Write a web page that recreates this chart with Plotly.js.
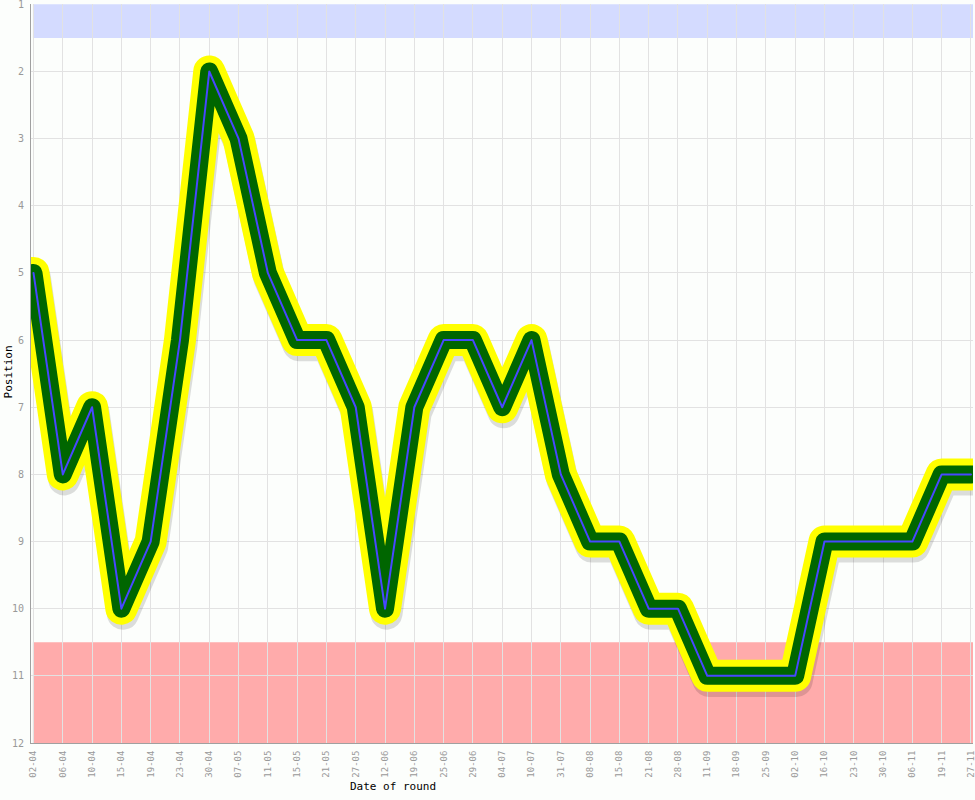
<!DOCTYPE html>
<html>
<head>
<meta charset="utf-8">
<script src="https://cdn.plot.ly/plotly-3.0.1.min.js"></script>
<style>
  html, body { margin: 0; padding: 0; background: #fcfefc; }
  #chart { width: 975px; height: 800px; }
</style>
</head>
<body>
<div id="chart"></div>
<script>
// ---- data ----
const dates = ['02-04','06-04','10-04','15-04','19-04','23-04','30-04','07-05','11-05','15-05','21-05',
               '27-05','12-06','19-06','25-06','29-06','04-07','10-07','31-07','08-08','15-08','21-08',
               '28-08','11-09','18-09','25-09','02-10','16-10','23-10','30-10','06-11','19-11','27-11'];
const positions = [5,8,7,10,9,6,2,3,5,6,6,7,10,7,6,6,7,6,8,9,9,10,10,11,11,11,11,9,9,9,9,8,8];
const positionTicks = [1,2,3,4,5,6,7,8,9,10,11,12];
const topZone = [1, 1.5];
const bottomZone = [10.5, 12];

// ---- layout helpers ----
const xRange = [-0.085, 32.07];
const yRange = [12, 0.995];
const shadowDx = 0.05;   // data units (x)
const shadowDy = 0.075;  // data units (y)

const traces = [
  { x: dates, y: positions, xaxis: 'x2', yaxis: 'y2', type: 'scatter', mode: 'lines',
    line: { color: 'rgba(0,0,0,0.13)', width: 32 }, hoverinfo: 'skip', showlegend: false },
  { x: dates, y: positions, xaxis: 'x3', yaxis: 'y3', type: 'scatter', mode: 'lines',
    line: { color: '#ffff00', width: 32 }, hoverinfo: 'skip', showlegend: false },
  { x: dates, y: positions, xaxis: 'x3', yaxis: 'y3', type: 'scatter', mode: 'lines',
    line: { color: '#006600', width: 18 }, hoverinfo: 'skip', showlegend: false },
  { x: dates, y: positions, xaxis: 'x3', yaxis: 'y3', type: 'scatter', mode: 'lines',
    line: { color: '#4848ff', width: 2 }, showlegend: false }
];

const tickFont = { family: 'DejaVu Sans Mono, monospace', size: 9, color: '#999999' };
const hiddenAxis = { showgrid: false, showline: false, showticklabels: false, zeroline: false, ticks: '' };

const layout = {
  width: 975, height: 800,
  margin: { l: 31, r: 2, t: 4, b: 57, pad: 0 },
  paper_bgcolor: '#fcfefc',
  plot_bgcolor: '#fcfefc',
  showlegend: false,
  xaxis: {
    type: 'category', range: xRange, categoryorder: 'array', categoryarray: dates,
    showgrid: true, gridcolor: '#e2e2e2', gridwidth: 1,
    showline: true, linecolor: '#a0a0a0', linewidth: 1,
    ticks: '', ticklabelstandoff: 3, tickangle: -90, tickfont: tickFont, zeroline: false, fixedrange: true
  },
  yaxis: {
    range: yRange, tickvals: positionTicks, ticktext: positionTicks.map(String),
    showgrid: true, gridcolor: '#e2e2e2', gridwidth: 1,
    showline: true, linecolor: '#a0a0a0', linewidth: 1,
    ticks: '', ticklabelstandoff: 4, ticklabeloverflow: 'allow',
    tickfont: { family: 'DejaVu Sans Mono, monospace', size: 10, color: '#999999' },
    zeroline: false, fixedrange: true
  },
  xaxis2: Object.assign({ type: 'category', overlaying: 'x', range: [xRange[0] - shadowDx, xRange[1] - shadowDx],
    categoryorder: 'array', categoryarray: dates }, hiddenAxis),
  yaxis2: Object.assign({ overlaying: 'y', range: [yRange[0] - shadowDy, yRange[1] - shadowDy] }, hiddenAxis),
  xaxis3: Object.assign({ type: 'category', overlaying: 'x', range: xRange,
    categoryorder: 'array', categoryarray: dates }, hiddenAxis),
  yaxis3: Object.assign({ overlaying: 'y', range: yRange }, hiddenAxis),
  shapes: [
    { type: 'rect', xref: 'paper', yref: 'y', x0: 0.002, x1: 1, y0: topZone[0], y1: topZone[1],
      fillcolor: '#d4dbff', line: { width: 0 }, layer: 'below' },
    { type: 'rect', xref: 'paper', yref: 'y', x0: 0.002, x1: 1, y0: bottomZone[0], y1: bottomZone[1],
      fillcolor: '#ffabab', line: { width: 0 }, layer: 'below' }
  ],
  annotations: [
    { text: 'Date of round', xref: 'paper', yref: 'paper', x: 0.384, y: -0.0595,
      xanchor: 'center', yanchor: 'middle', showarrow: false,
      font: { family: 'DejaVu Sans Mono, monospace', size: 11, color: '#000000' } },
    { text: 'Position', xref: 'paper', yref: 'paper', x: -0.024, y: 0.502, textangle: -90,
      xanchor: 'center', yanchor: 'middle', showarrow: false,
      font: { family: 'DejaVu Sans Mono, monospace', size: 11, color: '#000000' } }
  ]
};

Plotly.newPlot('chart', traces, layout, { displayModeBar: false, staticPlot: true }).then(() => {
  document.querySelectorAll('.scatterlayer path.js-line').forEach(p => {
    p.style.strokeLinejoin = 'round';
    p.style.strokeLinecap = 'round';
  });
});
</script>
</body>
</html>
